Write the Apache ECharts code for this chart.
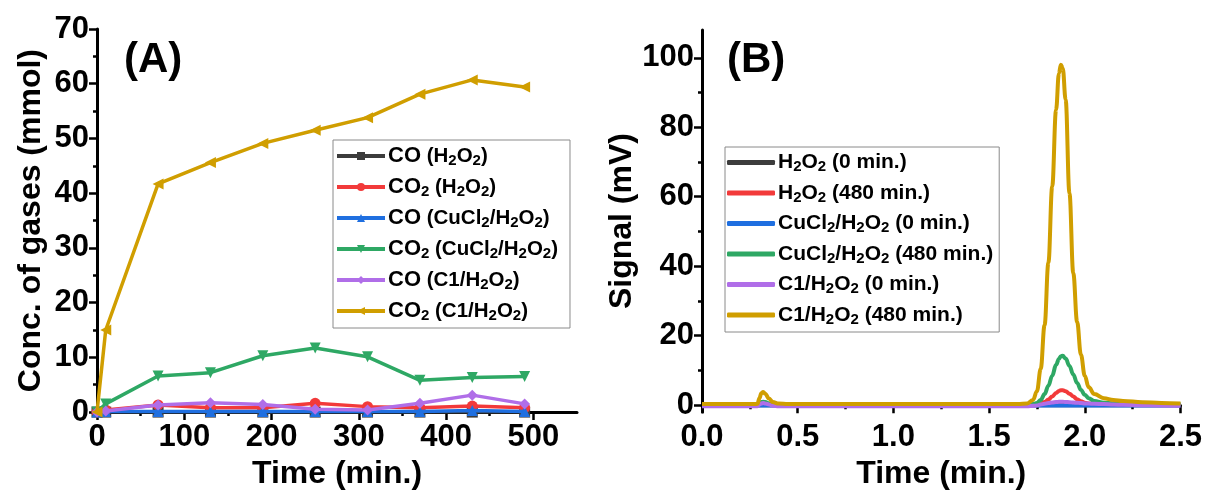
<!DOCTYPE html>
<html>
<head>
<meta charset="utf-8">
<script src="https://cdn.jsdelivr.net/npm/echarts@6/dist/echarts.min.js"></script>
<style>
html,body{margin:0;padding:0;background:#fff;}
#chart{width:1205px;height:495px;}
</style>
</head>
<body>
<div id="chart"></div>
<script>
// ---------- Panel A data ----------
const timeA = [0, 10, 70, 130, 190, 250, 310, 370, 430, 490];
const coH2O2 = [0, 0, 0, 0, 0, 0, 0, 0, 0, 0];
const co2H2O2 = [0, 0.4, 1.3, 0.8, 0.8, 1.6, 1.0, 0.8, 1.1, 0.8];
const coCuCl2 = [0, 0.1, 0.1, 0.1, 0.1, 0.1, 0.1, 0.1, 0.3, 0.1];
const co2CuCl2 = [0, 1.5, 6.6, 7.2, 10.3, 11.7, 10.1, 5.8, 6.3, 6.5];
const coC1 = [0, 0.2, 1.3, 1.7, 1.4, 0.5, 0.4, 1.6, 3.1, 1.5];
const co2C1 = [0, 15, 41.7, 45.6, 49.1, 51.5, 53.8, 58.1, 60.7, 59.4];
const namesA = ['CO (H2O2)', 'CO2 (H2O2)', 'CO (CuCl2/H2O2)', 'CO2 (CuCl2/H2O2)', 'CO (C1/H2O2)', 'CO2 (C1/H2O2)'];
const xTicksA = [0, 100, 200, 300, 400, 500];
const xMinorA = [50, 150, 250, 350, 450];

// ---------- Panel B data ----------
const timeB = [0, 0.20, 0.28, 0.29, 0.30, 0.31, 0.32, 0.33, 0.35, 0.37, 0.40, 0.45, 0.60, 1.00, 1.40, 1.65,
  1.70, 1.73, 1.75, 1.77, 1.79, 1.81, 1.83, 1.85, 1.865, 1.875, 1.885, 1.90, 1.92, 1.94, 1.96, 1.98,
  2.00, 2.02, 2.05, 2.10, 2.15, 2.20, 2.30, 2.40, 2.50];
const sigH2O2_0 = [0, 0, 0, 0, 0, 0, 0, 0, 0, 0, 0, 0, 0, 0, 0, 0,
  0, 0, 0, 0, 0, 0, 0, 0, 0, 0, 0, 0, 0, 0, 0, 0,
  0, 0, 0, 0, 0, 0, 0, 0, 0];
const sigH2O2_480 = [0.1, 0.1, 0.1, 0.1, 0.2, 0.3, 0.3, 0.3, 0.2, 0.1, 0.1, 0.1, 0.1, 0.1, 0.1, 0.1,
  0.1, 0.1, 0.2, 0.4, 0.9, 1.6, 2.5, 3.5, 4.1, 4.3, 4.3, 4.0, 3.3, 2.5, 1.7, 1.1,
  0.7, 0.45, 0.3, 0.2, 0.15, 0.15, 0.15, 0.15, 0.15];
const sigCuCl2_0 = [-0.1, -0.1, -0.1, -0.1, -0.1, -0.1, -0.1, -0.1, -0.1, -0.1, -0.1, -0.1, -0.1, -0.1, -0.1, -0.1,
  -0.1, -0.1, -0.1, -0.1, -0.1, -0.1, -0.1, -0.1, -0.1, -0.1, -0.1, -0.1, -0.1, -0.1, -0.1, -0.1,
  -0.1, -0.1, -0.1, -0.1, -0.1, -0.1, -0.1, -0.1, -0.1];
const sigCuCl2_480 = [0.2, 0.2, 0.2, 0.2, 0.6, 0.9, 1.0, 0.9, 0.5, 0.3, 0.2, 0.2, 0.2, 0.2, 0.2, 0.2,
  0.2, 0.3, 0.6, 1.5, 3.2, 5.6, 8.5, 11.6, 13.3, 14.1, 14.2, 13.4, 11.3, 8.8, 6.4, 4.4,
  3.0, 2.0, 1.2, 0.7, 0.5, 0.4, 0.3, 0.3, 0.3];
const sigC1_0 = [-0.3, -0.3, -0.3, -0.3, 0.2, 0.5, 0.6, 0.5, 0.2, -0.2, -0.3, -0.3, -0.3, -0.3, -0.3, -0.3,
  -0.3, -0.2, -0.1, 0.2, 0.4, 0.6, 0.75, 0.9, 0.95, 1.0, 1.0, 0.9, 0.85, 0.75, 0.7, 0.6,
  0.5, 0.45, 0.4, 0.3, 0.2, 0.1, 0.0, -0.1, -0.2];
const sigC1_480 = [0.3, 0.3, 0.3, 0.4, 2.0, 3.4, 3.8, 3.3, 1.9, 0.9, 0.45, 0.3, 0.3, 0.3, 0.3, 0.3,
  0.5, 1.5, 4, 10.5, 23, 41, 63, 85, 95.5, 98, 97, 88, 61, 38, 24, 14.5,
  8.5, 5.2, 3.2, 2.0, 1.5, 1.2, 0.85, 0.65, 0.5];
const namesB = ['H2O2 (0 min.)', 'H2O2 (480 min.)', 'CuCl2/H2O2 (0 min.)', 'CuCl2/H2O2 (480 min.)', 'C1/H2O2 (0 min.)', 'C1/H2O2 (480 min.)'];
const yTicksB = [0, 20, 40, 60, 80, 100];
const yMinorB = [10, 30, 50, 70, 90];

const colors = ['#3c3c3c', '#f23a3a', '#1f6fe0', '#2ea864', '#b06ee8', '#d09e00'];
const symbolsA = ['rect', 'circle', 'triangle', 'triangle', 'diamond', 'triangle'];
const rotateA = [0, 0, 0, 180, 0, 90];

const FONT = '"Liberation Sans", Arial, sans-serif';

function pair(xs, ys) { return xs.map((x, i) => [x, ys[i]]); }

// rich text for legend: subscript every "2" that follows a letter
function toRich(name, mainStyle, parStyle) {
  const m = name.match(/^(\S+)(.*)$/);
  const conv = (str, st) => {
    let res = '';
    let buf = '';
    for (let i = 0; i < str.length; i++) {
      const c = str[i];
      if (c === '2' && i > 0 && /[A-Za-z]/.test(str[i - 1])) {
        if (buf) { res += '{' + st + '|' + buf + '}'; buf = ''; }
        res += '{s|2}';
      } else if (c === ' ') {
        if (buf) { res += '{' + st + '|' + buf + '}'; buf = ''; }
        res += '{' + st + '| }';
      } else buf += c;
    }
    if (buf) res += '{' + st + '|' + buf + '}';
    return res;
  };
  return conv(m[1], mainStyle) + conv(m[2], parStyle);
}

const dataA = [coH2O2, co2H2O2, coCuCl2, co2CuCl2, coC1, co2C1];
const dataB = [sigH2O2_0, sigH2O2_480, sigCuCl2_0, sigCuCl2_480, sigC1_0, sigC1_480];

const seriesA = namesA.map((n, i) => ({
  name: n, type: 'line', xAxisIndex: 0, yAxisIndex: 0,
  data: pair(timeA, dataA[i]),
  symbol: symbolsA[i], symbolRotate: rotateA[i], symbolSize: 11,
  lineStyle: { width: 3.5, color: colors[i] }, itemStyle: { color: colors[i] },
  z: 2 + i, animation: false
}));
const seriesB = namesB.map((n, i) => ({
  name: n, type: 'line', xAxisIndex: 2, yAxisIndex: 1,
  data: pair(timeB, dataB[i]),
  symbol: 'none', smooth: 0.4, smoothMonotone: 'x',
  lineStyle: { width: 4, color: colors[i] }, itemStyle: { color: colors[i] },
  z: 2 + i, animation: false
}));

const axisLine = { show: true, lineStyle: { color: '#000', width: 3 } };
const labelStyle = { color: '#000', fontSize: 31, fontWeight: 'bold', fontFamily: FONT };
const nameStyle = { color: '#000', fontSize: 32, fontWeight: 'bold', fontFamily: FONT };
const richA = {
  b: { fontSize: 22, fontWeight: 'bold', fontFamily: FONT, color: '#000', lineHeight: 24, verticalAlign: 'middle' },
  p: { fontSize: 20.5, fontWeight: 'bold', fontFamily: FONT, color: '#000', lineHeight: 24, verticalAlign: 'middle' },
  s: { fontSize: 15, fontWeight: 'bold', fontFamily: FONT, color: '#000', lineHeight: 15, verticalAlign: 'bottom' }
};
const richB = {
  b: { fontSize: 21, fontWeight: 'bold', fontFamily: FONT, color: '#000', lineHeight: 24, verticalAlign: 'middle' },
  s: { fontSize: 15, fontWeight: 'bold', fontFamily: FONT, color: '#000', lineHeight: 15, verticalAlign: 'bottom' }
};

const option = {
  backgroundColor: '#fff',
  animation: false,
  grid: [
    { left: 97, right: 628, top: 29, bottom: 81 },
    { left: 702, right: 24, top: 30, bottom: 80 }
  ],
  xAxis: [
    {
      type: 'value', gridIndex: 0, min: 0, max: 550,
      axisLine: axisLine,
      axisTick: { show: true, length: 8, lineStyle: { width: 2.5, color: '#000' }, customValues: xTicksA },
      axisLabel: Object.assign({ margin: 10, customValues: xTicksA }, labelStyle),
      splitLine: { show: false },
      name: 'Time (min.)', nameLocation: 'middle', nameGap: 44, nameTextStyle: nameStyle
    },
    {
      type: 'value', gridIndex: 0, min: 0, max: 550, position: 'bottom',
      axisLine: { show: false },
      axisTick: { show: true, length: 4, lineStyle: { width: 2.5, color: '#000' }, customValues: xMinorA },
      axisLabel: { show: false },
      splitLine: { show: false }
    },
    {
      type: 'value', gridIndex: 1, min: 0, max: 2.5, interval: 0.5,
      axisLine: axisLine,
      axisTick: { show: true, length: 8, lineStyle: { width: 2.5, color: '#000' } },
      minorTick: { show: true, splitNumber: 2, length: 4, lineStyle: { width: 2.5, color: '#000' } },
      axisLabel: Object.assign({ margin: 10, formatter: v => v.toFixed(1) }, labelStyle),
      splitLine: { show: false },
      name: 'Time (min.)', nameLocation: 'middle', nameGap: 44, nameTextStyle: nameStyle
    }
  ],
  yAxis: [
    {
      type: 'value', gridIndex: 0, min: 0, max: 70, interval: 10,
      axisLine: axisLine,
      axisTick: { show: true, length: 8, lineStyle: { width: 2.5, color: '#000' } },
      minorTick: { show: true, splitNumber: 2, length: 4, lineStyle: { width: 2.5, color: '#000' } },
      axisLabel: Object.assign({ margin: 8 }, labelStyle),
      splitLine: { show: false },
      name: 'Conc. of gases (mmol)', nameLocation: 'middle', nameGap: 50, nameTextStyle: nameStyle
    },
    {
      type: 'value', gridIndex: 1, min: -2, max: 108,
      axisLine: axisLine,
      axisTick: { show: true, length: 8, lineStyle: { width: 2.5, color: '#000' }, customValues: yTicksB },
      axisLabel: Object.assign({ margin: 8, customValues: yTicksB }, labelStyle),
      splitLine: { show: false },
      name: 'Signal (mV)', nameLocation: 'middle', nameGap: 64, nameTextStyle: nameStyle
    },
    {
      type: 'value', gridIndex: 1, min: -2, max: 108, position: 'left',
      axisLine: { show: false },
      axisTick: { show: true, length: 4, lineStyle: { width: 2.5, color: '#000' }, customValues: yMinorB },
      axisLabel: { show: false },
      splitLine: { show: false }
    }
  ],
  legend: [
    {
      data: namesA, orient: 'vertical', left: 333, top: 140,
      padding: [5, 12, 5, 2], itemGap: 8, itemWidth: 48, itemHeight: 10,
      lineStyle: { width: 4 },
      borderColor: '#8a8a8a', borderWidth: 1, backgroundColor: '#fff',
      formatter: n => toRich(n, 'b', 'p'),
      textStyle: { rich: richA, padding: [0, 0, 0, -2] }
    },
    {
      data: namesB, orient: 'vertical', left: 725, top: 147,
      padding: [5, 6, 5, 2], itemGap: 8, itemWidth: 48, itemHeight: 5,
      icon: 'roundRect',
      borderColor: '#8a8a8a', borderWidth: 1, backgroundColor: '#fff',
      formatter: n => toRich(n, 'b', 'b'),
      textStyle: { rich: richB, padding: [0, 0, 0, -2] }
    }
  ],
  graphic: [
    { type: 'text', left: 124, top: 39, style: { text: '(A)', font: 'bold 42px ' + FONT, fill: '#000' } },
    { type: 'text', left: 727, top: 39, style: { text: '(B)', font: 'bold 42px ' + FONT, fill: '#000' } }
  ],
  series: seriesA.concat(seriesB)
};

const chart = echarts.init(document.getElementById('chart'), null, { renderer: 'canvas' });
chart.setOption(option);
</script>
</body>
</html>
